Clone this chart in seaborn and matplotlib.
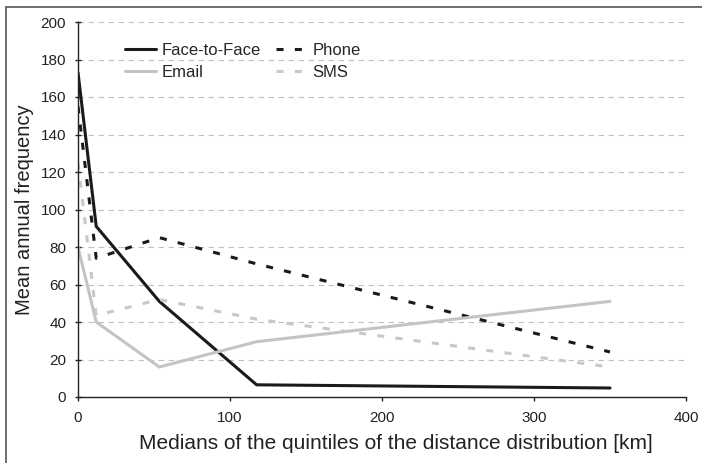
import matplotlib
matplotlib.use("Agg")
import matplotlib.pyplot as plt
from matplotlib.lines import Line2D
import seaborn as sns
import pandas as pd

# ─── Data ───
distance_km = [0, 12, 53.5, 117.5, 350]
face_to_face = [173, 91, 51, 6.5, 4.8]
phone = [155, 74, 85, 71, 24]
email = [80, 40, 16, 29.5, 51]
sms = [125, 43.5, 52, 41.5, 16]

series_names = ["Face-to-Face", "Phone", "Email", "SMS"]
series_values = [face_to_face, phone, email, sms]

# ─── Styles ───
styles = {
    "Face-to-Face": dict(color="#1a1a1a", linestyle="-"),
    "Phone": dict(color="#1a1a1a", linestyle=(0, (2.3, 3.7))),
    "Email": dict(color="#c4c4c4", linestyle="-"),
    "SMS": dict(color="#c8c8c8", linestyle=(0, (2.3, 3.7))),
}

sns.set_style("ticks")
plt.rcParams["font.family"] = ["Liberation Sans", "DejaVu Sans"]

fig = plt.figure(figsize=(7.02, 4.63), dpi=100)
ax = fig.add_axes([78 / 702, 1 - 397 / 463, (686 - 78) / 702, (397 - 22) / 463])

for name, vals in zip(series_names, series_values):
    df = pd.DataFrame({"x": distance_km, "y": vals})
    sns.lineplot(data=df, x="x", y="y", ax=ax, label=name, lw=2.2,
                 **styles[name])

ax.set_xlim(0, 400)
ax.set_ylim(0, 200)
ax.set_xticks(range(0, 401, 100))
ax.set_yticks(range(0, 201, 20))
ax.tick_params(axis="both", labelsize=11, colors="#222222", width=1)
ax.tick_params(axis="x", direction="out", length=3, pad=7)
ax.tick_params(axis="y", direction="inout", length=5, pad=6)
for y in range(20, 201, 20):
    ax.axhline(y, color="#c0c0c0", lw=0.8, ls=(0, (5, 4)), zorder=0)
sns.despine(ax=ax)
for sp in ["left", "bottom"]:
    ax.spines[sp].set_color("#222222")
    ax.spines[sp].set_linewidth(1)

ax.set_xlabel("Medians of the quintiles of the distance distribution [km]",
              fontsize=15, color="#222222", labelpad=5)
ax.xaxis.set_label_coords(0.523, -0.098)
ax.set_ylabel("Mean annual frequency", fontsize=14.5, color="#222222",
              labelpad=5)

# legend order: Face-to-Face, Email | Phone, SMS
handles, labels = ax.get_legend_handles_labels()
order = [labels.index(n) for n in ["Face-to-Face", "Email", "Phone", "SMS"]]
ax.legend([handles[i] for i in order], [labels[i] for i in order], ncol=2,
          frameon=False, loc="upper left", bbox_to_anchor=(0.052, 0.985),
          fontsize=12, handlelength=1.9, handletextpad=0.3,
          columnspacing=0.9, labelspacing=0.45)

# figure border (top and left edges visible)
fig.add_artist(Line2D([6 / 702, 6 / 702], [0, 1 - 7 / 463], color="#555555",
                      lw=1.2, transform=fig.transFigure))
fig.add_artist(Line2D([6 / 702, 1], [1 - 7 / 463, 1 - 7 / 463], color="#555555",
                      lw=1.2, transform=fig.transFigure))

fig.savefig("out.png", dpi=100)
